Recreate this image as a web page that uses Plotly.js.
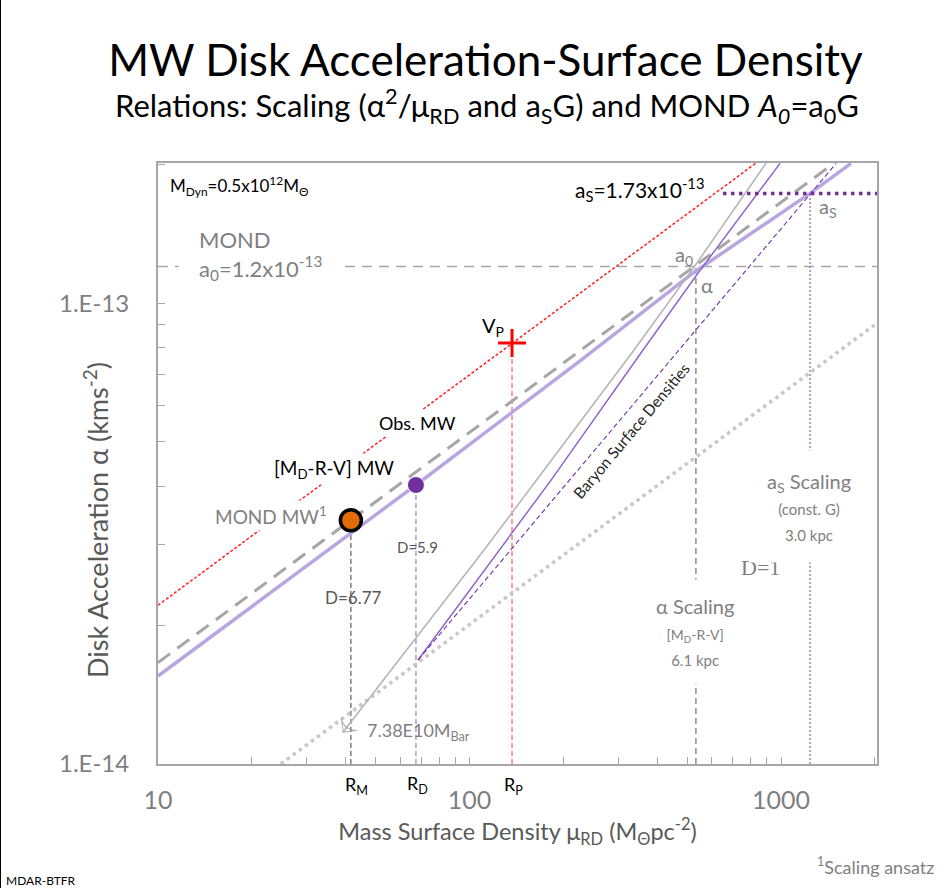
<!DOCTYPE html>
<html>
<head>
<meta charset="utf-8">
<script src="https://cdn.plot.ly/plotly-3.0.1.min.js"></script>
<style>
  html, body { margin: 0; padding: 0; background: #fff; }
  #chart { width: 947px; height: 888px; box-sizing: border-box; border-left: 1px solid #000; border-right: 1px solid #000; }
</style>
</head>
<body>
<div id="chart"></div>
<script>
// ---------------- DATA ----------------
const xTickVals  = [10, 100, 1000];
const xTickText  = ['10', '100', '1000'];
const xMinorVals = [20,30,40,50,60,70,80,90,200,300,400,500,600,700,800,900,2000];
const yTickVals  = [1e-14, 1e-13];
const yTickText  = ['1.E-14', '1.E-13'];
const yMinorVals = [2e-14,3e-14,4e-14,5e-14,6e-14,7e-14,8e-14,9e-14,2e-13];

const a0 = 1.2e-13;          // MOND acceleration
const aS = 1.73e-13;         // scaling acceleration

const a0LineX = [10, 2033];
const a0LineY = [a0, a0];
const aSLineX = [651, 2033];
const aSLineY = [aS, aS];

// characteristic surface densities
const R_M = 41.6, R_D = 67.3, R_P = 136.9, R_alpha = 533, R_aS = 1239;

// points
const mondMW = {x: [R_M], y: [3.38e-14]};
const mdrvMW = {x: [R_D], y: [4.03e-14]};
const vP     = {x: [R_P], y: [8.19e-14]};

// vertical guide lines
const vRMx = [R_M, R_M],         vRMy = [1e-14, 3.38e-14];
const vRDx = [R_D, R_D],         vRDy = [1e-14, 4.03e-14];
const vRPx = [R_P, R_P],         vRPy = [1e-14, 8.19e-14];
const vAlx = [R_alpha, R_alpha], vAly = [1e-14, 1.2e-13];
const vASx = [R_aS, R_aS],       vASy = [1e-14, 1.73e-13];

// relations
const obsMWx = [10, 1476];            const obsMWy = [1.66e-14, 2.01e-13];
const mdrvX  = [10, 67.3, 228, 526, 1239, 1678];
const mdrvY  = [1.552e-14, 4.03e-14, 7.52e-14, 1.167e-13, 1.73e-13, 2.01e-13];
const redX   = [10, 136.9, 828];      const redY = [2.21e-14, 8.19e-14, 2.01e-13];
const d1X    = [24.8, 2033];          const d1Y  = [1e-14, 9.05e-14];
const barGrayX = [894.9, 525.7, 337.4, 182.7, 111.3, 39.3];
const barGrayY = [2.012e-13, 1.197e-13, 7.91e-14, 4.565e-14, 2.912e-14, 1.173e-14];
const purpSolX = [68.35, 182.7, 360.6, 541.5, 992.7];
const purpSolY = [1.681e-14, 4.13e-14, 7.91e-14, 1.162e-13, 2.01e-13];
const baryonX  = [68.35, 1239, 1502];
const baryonY  = [1.681e-14, 1.73e-13, 2.01e-13];

// ---------------- PLOT ----------------
const L = 157, T = 163, R = 876, B = 764;
function P(px, py) { return {x: (px - L) / (R - L), y: (B - py) / (B - T), xref: 'paper', yref: 'paper'}; }
const FONT = 'Lato, "Open Sans", sans-serif';
const GRAY = '#7f7f7f';

function line(x, y, color, width, dash) {
  return {x, y, type: 'scatter', mode: 'lines', hoverinfo: 'skip',
          line: {color, width, dash: dash || 'solid'}};
}

const traces = [
  line(a0LineX, a0LineY, '#a6a6a6', 1.5, '10px,7px'),
  line(vRMx, vRMy, '#595959', 1.2, '5px,3px'),
  line(vRDx, vRDy, '#9b7fd4', 1.2, '5px,3px'),
  line(vRPx, vRPy, '#ff5a5a', 1.2, '5px,3px'),
  line(vAlx, vAly, '#6f6f6f', 1.2, '6px,4px'),
  line(vASx, vASy, '#9b7fd4', 1.5, '2px,2px'),
  line(d1X, d1Y, '#c8c8c8', 3.5, '3.5px,4px'),
  line(redX, redY, '#ff2020', 1.5, '3px,2px'),
  line(obsMWx, obsMWy, '#a6a6a6', 3, '15px,9px'),
  line(mdrvX, mdrvY, '#b9a6e0', 3.5),
  Object.assign(line(barGrayX, barGrayY, '#b3b3b3', 1.5), {
    mode: 'lines+markers',
    marker: {symbol: 'arrow-wide-open', size: [0,0,0,0,0,14], angleref: 'previous', color: '#9a9a9a', line: {color: '#9a9a9a', width: 1.2}}
  }),
  line(purpSolX, purpSolY, '#9066c9', 1.5),
  line(baryonX, baryonY, '#7030a0', 1.1, '5px,3px'),
  line(aSLineX, aSLineY, '#7030a0', 3.5, '3.5px,4.5px'),
  {x: mondMW.x, y: mondMW.y, type: 'scatter', mode: 'markers', hoverinfo: 'skip',
   marker: {size: 21, color: '#e36c09', line: {color: '#000', width: 3.5}}},
  {x: mdrvMW.x, y: mdrvMW.y, type: 'scatter', mode: 'markers', hoverinfo: 'skip',
   marker: {size: 17, color: '#7030a0', line: {color: '#fff', width: 1}}},
  {x: vP.x, y: vP.y, type: 'scatter', mode: 'markers', hoverinfo: 'skip',
   marker: {size: 20, symbol: 'cross-thin-open', color: '#ff0000', line: {color: '#ff0000', width: 3}}}
];

function ann(px, py, text, o) {
  return Object.assign(P(px, py), {text, showarrow: false, xanchor: 'center', yanchor: 'middle',
    font: {family: FONT, size: 17, color: '#000'}}, o || {});
}
const W = {bgcolor: '#fff'};
const annotations = [
  ann(486, 106, 'Relations: Scaling (α<sup>2</sup>/μ<sub>RD</sub> and a<sub>S</sub>G) and MOND <i>A</i><sub><i>0</i></sub>=a<sub>0</sub>G', {font: {family: FONT, size: 31, color: '#000'}}),
  ann(95, 520, 'Disk Acceleration α (kms<sup>-2</sup>)', {textangle: -90, font: {family: FONT, size: 27, color: '#595959'}}),
  ann(167, 186, 'M<sub>Dyn</sub>=0.5x10<sup>12</sup>M<sub>Θ</sub>', {xanchor: 'left'}),
  ann(177, 255, 'MOND<br>a<sub>0</sub>=1.2x10<sup>-13</sup>', Object.assign({xanchor: 'left', align: 'left', borderpad: 20, font: {family: FONT, size: 22, color: GRAY}}, W)),
  ann(572, 190, 'a<sub>S</sub>=1.73x10<sup>-13</sup>', {xanchor: 'left', font: {family: FONT, size: 21, color: '#000'}}),
  ann(827, 207, 'a<sub>S</sub>', {font: {family: FONT, size: 20, color: GRAY}}),
  ann(683, 255, 'a<sub>0</sub>', {font: {family: FONT, size: 20, color: GRAY}}),
  ann(706, 285, 'α', {font: {family: FONT, size: 20, color: GRAY}}),
  ann(492, 326, 'V<sub>P</sub>', {font: {family: FONT, size: 20, color: '#000'}}),
  ann(416, 423, 'Obs. MW', Object.assign({font: {family: FONT, size: 18, color: '#000'}, borderpad: 2}, W)),
  ann(333, 469, '[M<sub>D</sub>-R-V] MW', Object.assign({font: {family: FONT, size: 19, color: '#000'}, borderpad: 2}, W)),
  ann(270, 515, 'MOND MW<sup>1</sup>', Object.assign({font: {family: FONT, size: 19, color: GRAY}, borderpad: 2}, W)),
  ann(416, 547, 'D=5.9', {font: {family: FONT, size: 15, color: '#595959'}}),
  ann(352, 597, 'D=6.77', {font: {family: FONT, size: 17, color: '#595959'}}),
  ann(759, 567, 'D=1', {font: {family: '"Liberation Serif", serif', size: 22, color: GRAY}}),
  ann(694, 631, 'α Scaling<br><span style="font-size:14px">[M<sub>D</sub>-R-V]</span><br><span style="font-size:15px">6.1 kpc</span>', Object.assign({borderpad: 14, font: {family: FONT, size: 20, color: GRAY}}, W)),
  ann(808, 507, 'a<sub>S</sub> Scaling<br><span style="font-size:15px">(const. G)</span><br><span style="font-size:15px">3.0 kpc</span>', Object.assign({borderpad: 18, font: {family: FONT, size: 20, color: GRAY}}, W)),
  ann(630, 431, 'Baryon Surface Densities', {textangle: -50, font: {family: FONT, size: 15.5, color: '#262626'}}),
  ann(417, 731, '7.38E10M<sub>Bar</sub>', {font: {family: FONT, size: 18, color: GRAY}}),
  ann(355, 785, 'R<sub>M</sub>', {font: {family: FONT, size: 18, color: '#000'}}),
  ann(416, 784, 'R<sub>D</sub>', {font: {family: FONT, size: 18, color: '#000'}}),
  ann(512, 785, 'R<sub>P</sub>', {font: {family: FONT, size: 18, color: '#000'}}),
  ann(3, 880, 'MDAR-BTFR', {xanchor: 'left', font: {family: FONT, size: 12, color: '#000'}}),
  ann(935, 866, '<sup>1</sup>Scaling ansatz', {xanchor: 'right', font: {family: FONT, size: 18, color: GRAY}})
];

const axisCommon = {
  type: 'log', tickmode: 'array', ticks: 'inside', ticklen: 7, tickcolor: '#a6a6a6',
  showgrid: false, zeroline: false, showline: true, mirror: true, linecolor: '#a6a6a6', linewidth: 2,
  tickfont: {family: FONT, size: 25, color: GRAY}
};

const layout = {
  width: 947, height: 888,
  margin: {l: L, r: 947 - R, t: T, b: 888 - B},
  paper_bgcolor: '#fff', plot_bgcolor: '#fff',
  showlegend: false,
  title: {text: 'MW Disk Acceleration-Surface Density', font: {family: FONT, size: 44, color: '#000'},
          x: 484.5 / 947, xanchor: 'center', xref: 'container', y: 1 - 61 / 888, yref: 'container', yanchor: 'middle'},
  xaxis: Object.assign({}, axisCommon, {
          range: [1, 3.308], tickvals: xTickVals, ticktext: xTickText,
          minor: {tickmode: 'array', tickvals: xMinorVals, ticks: 'inside', ticklen: 7, tickcolor: '#a6a6a6'},
          ticklabelstandoff: 13,
          title: {text: 'Mass Surface Density μ<sub>RD</sub> (M<sub>Θ</sub>pc<sup>-2</sup>)', standoff: 10,
                  font: {family: FONT, size: 23.5, color: '#595959'}}}),
  yaxis: Object.assign({}, axisCommon, {
          range: [-14, -12.696], tickvals: yTickVals, ticktext: yTickText,
          minor: {tickmode: 'array', tickvals: yMinorVals, ticks: 'inside', ticklen: 7, tickcolor: '#a6a6a6'},
          tickfont: {family: FONT, size: 24, color: GRAY},
          ticklabelstandoff: 22}),
  annotations
};

Plotly.newPlot('chart', traces, layout, {displayModeBar: false, staticPlot: true});
</script>
</body>
</html>
